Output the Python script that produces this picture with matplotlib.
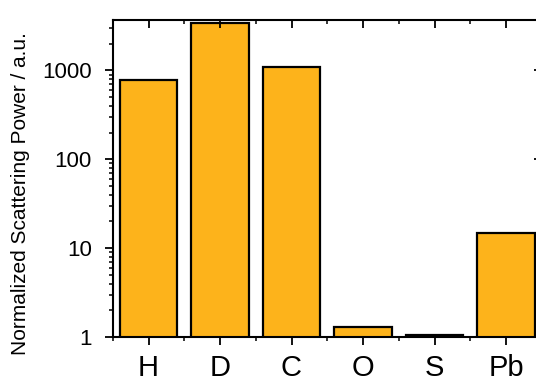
import matplotlib
matplotlib.use("Agg")
import matplotlib.pyplot as plt
from matplotlib.ticker import FixedLocator, LogLocator, NullFormatter, FixedFormatter

plt.rcParams['font.family'] = ['Liberation Sans', 'DejaVu Sans']

elements = ["H", "D", "C", "O", "S", "Pb"]
scattering_power = [780, 3400, 1100, 1.3, 1.05, 15]
ytick_values = [1, 10, 100, 1000]
ytick_labels = ["1", "10", "100", "1000"]

fig = plt.figure(figsize=(5.36, 3.83), dpi=100)
ax = fig.add_axes([112.75 / 536, 46 / 383, 429 / 536, 317 / 383])

x = list(range(len(elements)))
ax.bar(x, scattering_power, width=0.8, bottom=0, color="#FDB31B",
       edgecolor="black", linewidth=1.6, log=True)

ax.set_yscale("log")
ax.set_ylim(1, 3700)
ax.set_xlim(-0.5, len(elements) - 0.5)

ax.yaxis.set_major_locator(FixedLocator(ytick_values))
ax.yaxis.set_major_formatter(FixedFormatter(ytick_labels))
ax.yaxis.set_minor_locator(LogLocator(base=10, subs=range(2, 10)))
ax.yaxis.set_minor_formatter(NullFormatter())

ax.set_xticks(x)
ax.set_xticklabels(elements)
ax.set_xticks([i + 0.5 for i in range(-1, len(elements))], minor=True)

for s in ax.spines.values():
    s.set_linewidth(1.5)

ax.tick_params(axis="y", which="major", direction="out", length=6, width=1.3,
               labelsize=16, pad=9, right=True)
ax.tick_params(axis="y", which="minor", direction="out", length=3.2, width=1.1,
               right=True)
ax.tick_params(axis="x", which="major", direction="out", length=6, width=1.3,
               labelsize=21, pad=6, top=True)
ax.tick_params(axis="x", which="minor", direction="out", length=3.2, width=1.1,
               top=True)
# mirrored ticks on the top and right sides point into the plot
for t in ax.xaxis.get_major_ticks() + ax.xaxis.get_minor_ticks():
    t.tick2line.set_marker(3)
for t in ax.yaxis.get_major_ticks() + ax.yaxis.get_minor_ticks():
    t.tick2line.set_marker(0)

fig.text(20.5 / 536, 1 - 194 / 383, "Normalized Scattering Power / a.u.",
         rotation=90, ha="center", va="center", fontsize=15)

fig.savefig("out.png", dpi=100)
